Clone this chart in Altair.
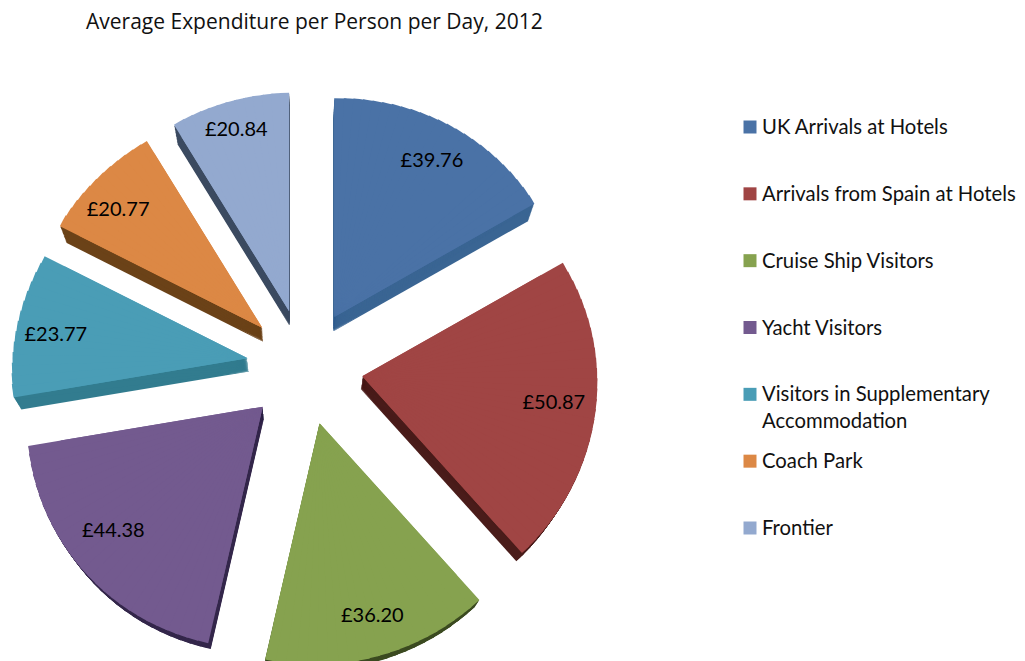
import math
import altair as alt
import pandas as pd

title = "Average Expenditure per Person per Day, 2012"
categories = ["UK Arrivals at Hotels", "Arrivals from Spain at Hotels", "Cruise Ship Visitors",
              "Yacht Visitors", "Visitors in Supplementary|Accommodation", "Coach Park", "Frontier"]
values = [39.76, 50.87, 36.20, 44.38, 23.77, 20.77, 20.84]
top_colors = ["#4a72a6", "#a04544", "#86a24f", "#735a8f", "#4a9db6", "#dc8845", "#93a9cf"]
wall_colors = ["#3a6593", "#4a1c1a", "#3b4a20", "#33264a", "#327c8f", "#6b4218", "#3b4a60"]
label_nudge_x = [2, 4, 5, -11, -4, -4, -1]
label_nudge_y = [8, -4, 9, -6, 5, 11, 2]
explode = 58
label_dist = 248
wall_depth = 13
perspective = 0.002
seg_step = 2.5 * math.pi / 180
seam_overlap = 0.012

W, H = 1009, 621
PAD_TOP = 32
cx, cy = 305 - 8, 367 - 8 - PAD_TOP
total = sum(values)


def rim(theta):
    # the pie is seen from slightly above: nearer rim is further out than the far rim
    return 230 - 11.5 * math.cos(theta) + 5 * math.sin(theta) ** 2 + 2.5 * math.sin(2 * theta)


slices, segments, wall_rows, acc = [], [], [], 0.0
for i, (c, v) in enumerate(zip(categories, values)):
    a0 = acc / total * 2 * math.pi
    acc += v
    a1 = acc / total * 2 * math.pi
    mid = (a0 + a1) / 2
    ax, ay = explode * math.sin(mid), explode * math.cos(mid)
    slices.append(dict(cat=c, label=f"£{v:.2f}", t0=a0, t1=a1, r=205, ax=ax, ay=ay,
                       lx=label_dist * math.sin(mid) + label_nudge_x[i],
                       ly=label_dist * math.cos(mid) - label_nudge_y[i]))
    n = max(1, round((a1 - a0) / seg_step))
    for j in range(n):
        t0 = a0 + (a1 - a0) * j / n
        t1 = a0 + (a1 - a0) * (j + 1) / n
        r = rim((t0 + t1) / 2)
        t1o = min(t1 + seam_overlap, a1)
        segments.append(dict(cat=c, t0=t0, t1=t1o, r=r, ax=ax, ay=ay))
        for k in range(1, wall_depth + 1):
            s = 1 - perspective * k
            wall_rows.append(dict(cat=c, t0=t0, t1=t1o, r=r * s, ax=ax * s, ay=ay * s - k))

df = pd.DataFrame(slices)
seg = pd.DataFrame(segments)
walls = pd.DataFrame(wall_rows)

xs = alt.Scale(domain=[-cx, W - cx], range=[0, W], nice=False, zero=False)
ys = alt.Scale(domain=[-(H - cy), cy], range=[H, 0], nice=False, zero=False)
color = alt.Color("cat:N", scale=alt.Scale(domain=categories, range=top_colors), legend=None)
wall_color = alt.Color("cat:N", scale=alt.Scale(domain=categories, range=wall_colors), legend=None)
X = lambda f: alt.X(f, scale=xs, axis=None)
Y = lambda f: alt.Y(f, scale=ys, axis=None)

arc = dict(theta=alt.Theta("t0:Q", scale=None, stack=None), theta2=alt.Theta2("t1:Q"),
           radius=alt.Radius("r:Q", scale=None))

wall_layer = alt.Chart(walls).mark_arc().encode(x=X("ax:Q"), y=Y("ay:Q"), color=wall_color, **arc)
base_layer = alt.Chart(df).mark_arc().encode(x=X("ax:Q"), y=Y("ay:Q"), color=color, **arc)
top_layer = alt.Chart(seg).mark_arc().encode(x=X("ax:Q"), y=Y("ay:Q"), color=color, **arc)
label_layer = alt.Chart(df).mark_text(font="Lato", fontSize=20, color="#000000").encode(
    x=X("lx:Q"), y=Y("ly:Q"), text="label:N")

leg_y = alt.Y("cat:N", scale=alt.Scale(domain=categories, range=[127 - 8 - PAD_TOP, 528 - 8 - PAD_TOP], padding=0, type="point"),
              axis=None, sort=categories)
leg_sym = alt.Chart(df).mark_square(size=169, opacity=1).encode(
    x=alt.value(750 - 8), y=leg_y, color=color)
leg_txt = alt.Chart(df).transform_calculate(lines="split(datum.cat, '|')").mark_text(
    font="Lato", fontSize=20.3, align="left", baseline="alphabetic", dy=7, lineHeight=27, color="#111111"
).encode(x=alt.value(762 - 8), y=leg_y, text="lines:N")

chart = alt.layer(wall_layer, base_layer, top_layer, label_layer, leg_sym, leg_txt).resolve_scale(
    x="independent", y="independent", color="independent"
).properties(
    width=W, height=H, padding={"left": 0, "top": PAD_TOP, "right": 0, "bottom": 0},
    autosize=alt.AutoSizeParams(type="none"),
    title=alt.TitleParams(title, anchor="start", dx=78, offset=7, font="Open Sans", fontSize=21,
                          fontWeight="normal", color="#111111", frame="group"),
).configure_view(stroke=None)

chart.save("out.html", embed_options={"renderer": "svg", "actions": False})
